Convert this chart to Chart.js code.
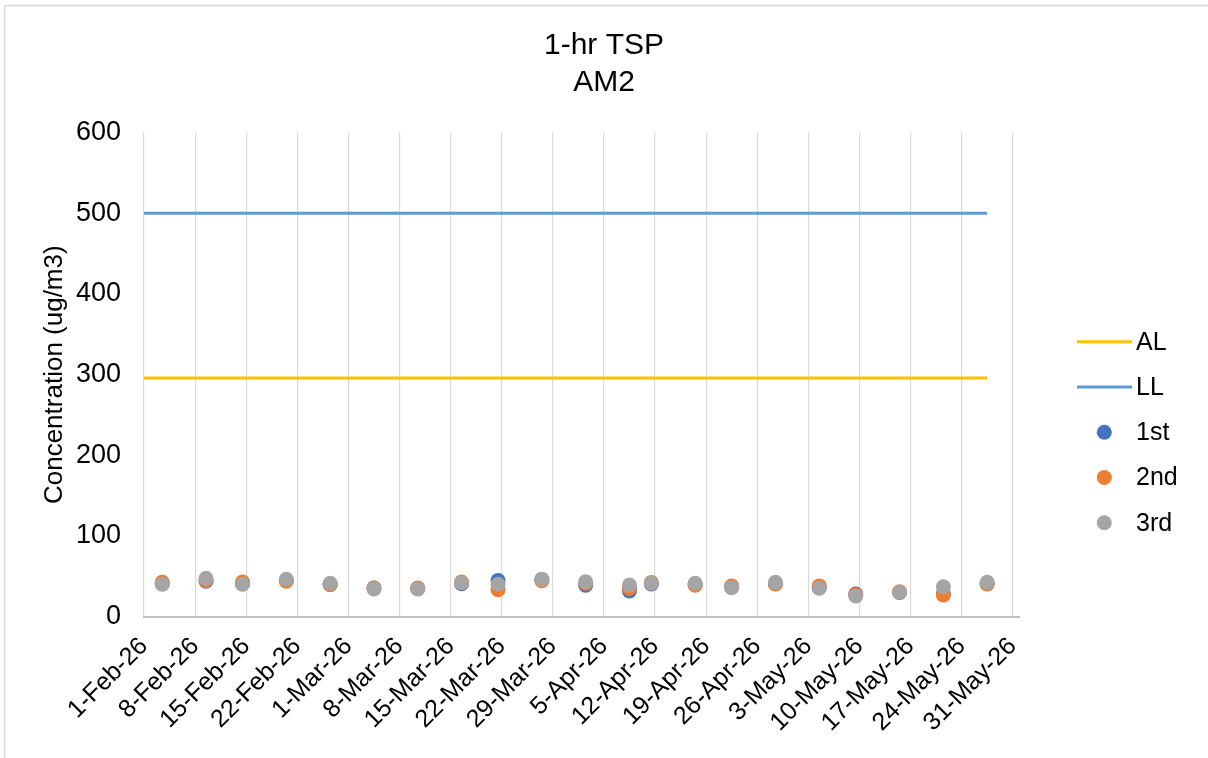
<!DOCTYPE html>
<html><head><meta charset="utf-8">
<script src="https://cdn.jsdelivr.net/npm/chart.js@4.4.1/dist/chart.umd.min.js"></script>
<style>html,body{margin:0;padding:0;background:#fff;}canvas{display:block;}</style>
</head><body>
<canvas id="c" width="1208" height="758"></canvas>
<script>
const chartTitle = ['1-hr TSP', 'AM2'];
const yAxisTitle = 'Concentration (ug/m3)';
const tickLabels = ['1-Feb-26','8-Feb-26','15-Feb-26','22-Feb-26','1-Mar-26','8-Mar-26','15-Mar-26','22-Mar-26','29-Mar-26','5-Apr-26','12-Apr-26','19-Apr-26','26-Apr-26','3-May-26','10-May-26','17-May-26','24-May-26','31-May-26'];
const yTicks = [0, 100, 200, 300, 400, 500, 600];
const sampleDates = ['3-Feb-26','9-Feb-26','14-Feb-26','20-Feb-26','26-Feb-26','4-Mar-26','10-Mar-26','16-Mar-26','21-Mar-26','27-Mar-26','2-Apr-26','8-Apr-26','11-Apr-26','17-Apr-26','22-Apr-26','28-Apr-26','4-May-26','9-May-26','15-May-26','21-May-26','27-May-26'];
const series1st = [41, 44, 41, 45, 40, 35.5, 35, 41, 45, 46, 39, 32, 40.5, 40, 37, 41, 36, 28, 30, 28, 41];
const series2nd = [42.6, 45, 43, 44, 40, 35.5, 35.5, 43, 33.5, 44.5, 41.5, 35, 42.5, 39, 38, 40.5, 38.2, 27, 31, 27, 40.5];
const series3rd = [40.2, 47.6, 40.2, 46.4, 41.4, 34.3, 34.3, 42.1, 40.2, 46.4, 43.4, 39.3, 41.4, 41.4, 36, 42.6, 35.2, 25.7, 30.2, 37.2, 42.6];
const actionLevel = 296;
const limitLevel = 500;
const axisStartDate = '1-Feb-26';
const axisEndDate = '1-Jun-26';

const monthStart = {Feb: 0, Mar: 28, Apr: 59, May: 89, Jun: 120};
function dayIndex(s) { const p = s.split('-'); return monthStart[p[1]] + (+p[0]) - 1; }
function dayCenter(s) { return dayIndex(s) + 0.5; }

const xMin = dayIndex(axisStartDate), xMax = dayIndex(axisEndDate);
const lastX = dayCenter(sampleDates[sampleDates.length - 1]);
const pts = arr => sampleDates.map((d, i) => ({x: dayCenter(d), y: arr[i]}));

const FONT = "'Liberation Sans', Arial, sans-serif";
Chart.defaults.font.family = FONT;
Chart.defaults.color = '#000';

const bgPlugin = {
  id: 'bg',
  beforeDraw(chart) {
    const ctx = chart.ctx;
    ctx.save();
    ctx.fillStyle = '#fff';
    ctx.fillRect(0, 0, chart.width, chart.height);
    ctx.strokeStyle = '#d9d9d9';
    ctx.lineWidth = 1.5;
    ctx.strokeRect(4.5, 5.5, chart.width - 2, chart.height + 10);
    ctx.restore();
  }
};

const legendPlugin = {
  id: 'sideLegend',
  afterDraw(chart, args, o) {
    const ctx = chart.ctx;
    ctx.save();
    ctx.font = o.fontSize + 'px ' + FONT;
    ctx.textBaseline = 'middle';
    ctx.textAlign = 'left';
    chart.data.datasets.forEach((ds, i) => {
      const y = o.top + i * o.step;
      if (ds.showLine) {
        ctx.strokeStyle = ds.borderColor;
        ctx.lineWidth = ds.borderWidth;
        ctx.beginPath();
        ctx.moveTo(o.lineX0, y);
        ctx.lineTo(o.lineX1, y);
        ctx.stroke();
      } else {
        ctx.fillStyle = ds.backgroundColor;
        ctx.beginPath();
        ctx.arc(o.dotX, y, ds.pointRadius, 0, Math.PI * 2);
        ctx.fill();
      }
      ctx.fillStyle = '#000';
      ctx.fillText(ds.label, o.textX, y + 1);
    });
    ctx.restore();
  }
};

new Chart(document.getElementById('c'), {
  type: 'scatter',
  data: {
    datasets: [
      {label: 'AL', data: [{x: xMin, y: actionLevel}, {x: lastX, y: actionLevel}], showLine: true, borderColor: '#FFC000', borderWidth: 3, pointRadius: 0, order: 3},
      {label: 'LL', data: [{x: xMin, y: limitLevel}, {x: lastX, y: limitLevel}], showLine: true, borderColor: '#5B9BD5', borderWidth: 3, pointRadius: 0, order: 4},
      {label: '1st', data: pts(series1st), backgroundColor: '#4472C4', borderWidth: 0, pointRadius: 7.5, order: 2},
      {label: '2nd', data: pts(series2nd), backgroundColor: '#ED7D31', borderWidth: 0, pointRadius: 7.5, order: 1},
      {label: '3rd', data: pts(series3rd), backgroundColor: '#A5A5A5', borderWidth: 0, pointRadius: 7.5, order: 0}
    ]
  },
  options: {
    responsive: false,
    animation: false,
    events: [],
    layout: {padding: 0},
    plugins: {
      legend: {display: false},
      tooltip: {enabled: false},
      title: {display: true, text: chartTitle, color: '#000', font: {size: 30, weight: 'normal', lineHeight: 37 / 30}, padding: {top: 27.5, bottom: 31.2}},
      sideLegend: {top: 341.7, step: 45.25, lineX0: 1077, lineX1: 1132, dotX: 1104.3, textX: 1136, fontSize: 25}
    },
    scales: {
      x: {
        type: 'linear', min: xMin, max: xMax,
        afterBuildTicks: s => { s.ticks = tickLabels.map(l => ({value: dayIndex(l)})); },
        afterFit: s => { s.height = 758 - 616.7; },
        ticks: {autoSkip: false, maxRotation: 45, minRotation: 45, padding: 15, font: {size: 25}, color: '#000',
                callback: (v, i) => tickLabels[i]},
        grid: {color: '#d9d9d9', lineWidth: 1.2, drawTicks: false},
        border: {color: '#bfbfbf', width: 2}
      },
      y: {
        min: 0, max: 600,
        afterBuildTicks: s => { s.ticks = yTicks.map(v => ({value: v})); },
        afterFit: s => { s.width = 144; },
        ticks: {padding: 23, font: {size: 27}, color: '#000'},
        grid: {display: false, drawTicks: false},
        border: {display: false},
        title: {display: true, text: yAxisTitle, color: '#000', font: {size: 26}, padding: {top: 55 - 15.6, bottom: 0}}
      },
      legendSpace: {
        type: 'linear', position: 'right', display: true,
        afterFit: s => { s.width = 1208 - 1020; },
        ticks: {display: false},
        grid: {display: false, drawTicks: false},
        border: {display: false}
      }
    }
  },
  plugins: [bgPlugin, legendPlugin]
});
</script>
</body></html>
